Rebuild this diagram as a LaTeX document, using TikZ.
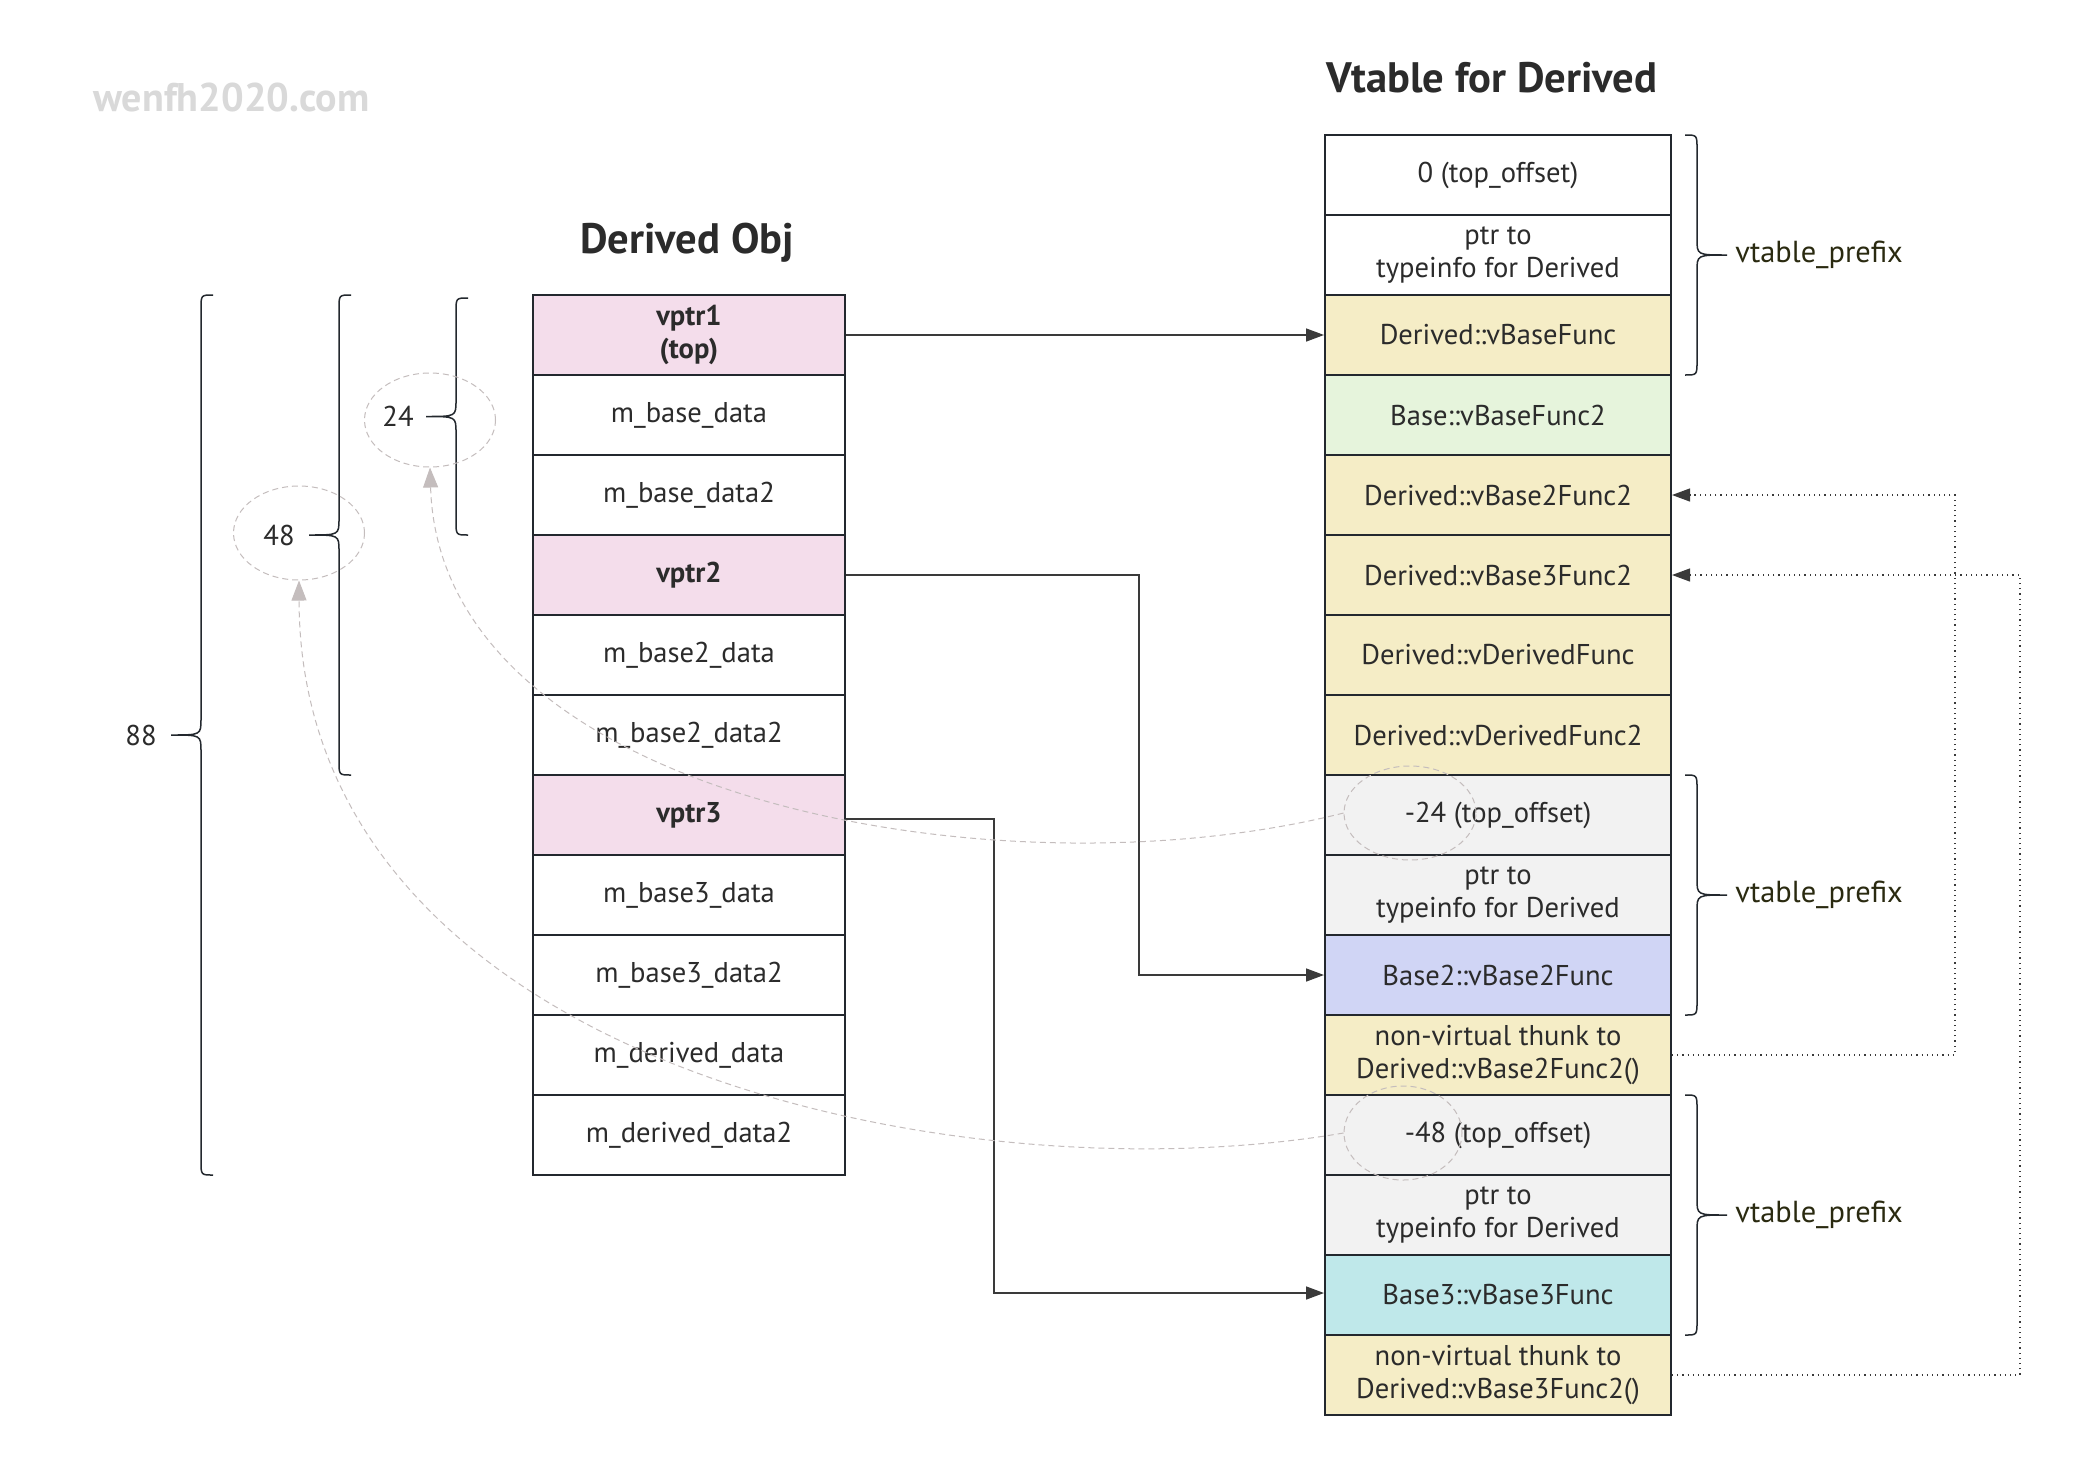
\documentclass[tikz,border=0pt]{standalone}
\usepackage{fontspec}
\usepackage{xcolor}
\usepackage{tikz}
\usetikzlibrary{arrows.meta,shapes.geometric}
\setmainfont{PT Sans}

\definecolor{pinkc}{HTML}{F4DDEB}
\definecolor{yelc}{HTML}{F5EDC6}
\definecolor{grnc}{HTML}{E6F4DC}
\definecolor{gryc}{HTML}{F2F2F2}
\definecolor{bluc}{HTML}{D0D5F5}
\definecolor{cync}{HTML}{BFE8EA}
\definecolor{linec}{HTML}{23282E}
\definecolor{arrowc}{HTML}{3A3A3A}
\definecolor{ringc}{HTML}{C4BDBD}
\definecolor{markc}{HTML}{D9D9D9}
\definecolor{prefc}{HTML}{2A2A10}
\definecolor{textc}{HTML}{2B2B2B}

\newcommand*{\rowfont}{\fontsize{14.3}{16.5}\selectfont}
\newcommand*{\boldrowfont}{\fontsize{14.3}{16.5}\selectfont\bfseries}
\newcommand*{\titlefont}{\fontsize{21.3}{25}\selectfont\bfseries}
\newcommand*{\markfont}{\fontsize{20}{24}\selectfont\bfseries}

% curly brace: x of the ends, top y, bottom y, side (-1 left, 1 right), tip name
\newcommand*{\curly}[5]{%
  \draw [brc] (#1,#2) .. controls ({#1+12*(#4)},#2) .. ({#1+12*(#4)},{#2+14})
    -- ({#1+12*(#4)},{(#2+#3)/2-16})
    .. controls ({#1+12*(#4)},{(#2+#3)/2}) .. ({#1+42*(#4)},{(#2+#3)/2}) coordinate (#5)
    .. controls ({#1+12*(#4)},{(#2+#3)/2}) .. ({#1+12*(#4)},{(#2+#3)/2+16})
    -- ({#1+12*(#4)},{#3-14}) .. controls ({#1+12*(#4)},#3) .. (#1,#3);
}

\tikzset{
  row/.style={draw=linec, line width=1pt, inner sep=0pt, align=center, text=textc},
  objrow/.style={row, minimum width=156pt, minimum height=40pt},
  vtrow/.style={row, minimum width=173pt, minimum height=40pt},
  ptr/.style={draw=arrowc, line width=0.75pt, -{Triangle[length=9pt,width=6.5pt]}},
  thunk/.style={draw=arrowc, line width=0.6pt, dotted, -{Triangle[length=9pt,width=6.5pt]}},
  hint/.style={draw=ringc, line width=0.5pt, dash pattern=on 3pt off 2pt,
    -{Triangle[length=10pt,width=7.5pt,fill=ringc]}},
  ring/.style={ellipse, draw=ringc, line width=0.5pt, dash pattern=on 3pt off 2pt,
    minimum width=65.5pt, minimum height=47pt, inner sep=0pt},
  brc/.style={draw=linec, line width=0.75pt},
  lbl/.style={font=\rowfont, text=textc, inner sep=0pt}
}

\begin{document}
\begin{tikzpicture}[x=0.5pt,y=-0.5pt]
  \fill [white] (0,0) rectangle (2096,1456);
  \useasboundingbox (0,0) rectangle (2096,1456);

  \node [font=\markfont, text=markc, anchor=west, inner sep=0pt] (mark) at (93,97) {wenfh2020.com};
  \node [font=\titlefont, text=textc] (objtitle) at (687,243) {Derived Obj};
  \node [font=\titlefont, text=textc] (vttitle) at (1492,78) {Vtable for Derived};

  % object layout
  \foreach \i/\c/\f/\t in {
      1/pinkc/\boldrowfont/{vptr1\\(top)},
      2/white/\rowfont/m\_base\_data,
      3/white/\rowfont/m\_base\_data2,
      4/pinkc/\boldrowfont/vptr2,
      5/white/\rowfont/m\_base2\_data,
      6/white/\rowfont/m\_base2\_data2,
      7/pinkc/\boldrowfont/vptr3,
      8/white/\rowfont/m\_base3\_data,
      9/white/\rowfont/m\_base3\_data2,
      10/white/\rowfont/m\_derived\_data,
      11/white/\rowfont/m\_derived\_data2} {
    \node [objrow, fill=\c, font=\f] (o\i) at (689,{255+80*\i}) {\t};
  }

  % vtable
  \foreach \i/\c/\t in {
      1/white/0 (top\_offset),
      2/white/{ptr to\\typeinfo for Derived},
      3/yelc/Derived::vBaseFunc,
      4/grnc/Base::vBaseFunc2,
      5/yelc/Derived::vBase2Func2,
      6/yelc/Derived::vBase3Func2,
      7/yelc/Derived::vDerivedFunc,
      8/yelc/Derived::vDerivedFunc2,
      9/gryc/-24 (top\_offset),
      10/gryc/{ptr to\\typeinfo for Derived},
      11/bluc/Base2::vBase2Func,
      12/yelc/{non-virtual thunk to\\Derived::vBase2Func2()},
      13/gryc/-48 (top\_offset),
      14/gryc/{ptr to\\typeinfo for Derived},
      15/cync/Base3::vBase3Func,
      16/yelc/{non-virtual thunk to\\Derived::vBase3Func2()}} {
    \node [vtrow, fill=\c, font=\rowfont] (v\i) at (1498,{95+80*\i}) {\t};
  }

  % vptr links
  \draw [ptr] (o1.east) -- (v3.west);
  \draw [ptr] (o4.east) -- ++(293,0) |- (v11.west);
  \draw [ptr] ([yshift=-2pt]o7.east) -- ++(148,0) |- ([yshift=1pt]v15.west);

  % thunks
  \draw [thunk] (v12.east) -- ++(283,0) |- (v5.east);
  \draw [thunk] (v16.east) -- ++(348,0) |- (v6.east);

  % sizes
  \curly{213}{295}{1175}{-1}{t88}
  \curly{351}{295}{775}{-1}{t48}
  \curly{468}{298}{535}{-1}{t24}
  \node [lbl, anchor=east] (n88) at ([xshift=-7pt]t88) {88};
  \node [lbl, anchor=east] (n48) at ([xshift=-7pt]t48) {48};
  \node [lbl, anchor=east] (n24) at ([xshift=-6pt]t24) {24};

  \curly{1685}{135}{375}{1}{p1}
  \curly{1685}{775}{1015}{1}{p2}
  \curly{1685}{1095}{1335}{1}{p3}
  \foreach \p in {p1,p2,p3} {
    \node [lbl, text=prefc, font=\fontsize{15.2}{17}\selectfont, anchor=west] (l\p) at ([xshift=4pt]\p) {vtable\_prefix};
  }

  % offsets
  \node [ring] (c24) at (430,420) {};
  \node [ring] (c48) at (299,533) {};
  \node [ring, minimum width=66pt] (r24) at (1410,813) {};
  \node [ring, minimum width=59pt] (r48) at (1403,1133) {};
  \draw [hint] (r24.west) .. controls (1000,900) and (440,800) .. (c24.south);
  \draw [hint] (r48.west) .. controls (950,1200) and (300,1060) .. (c48.south);
\end{tikzpicture}
\end{document}
